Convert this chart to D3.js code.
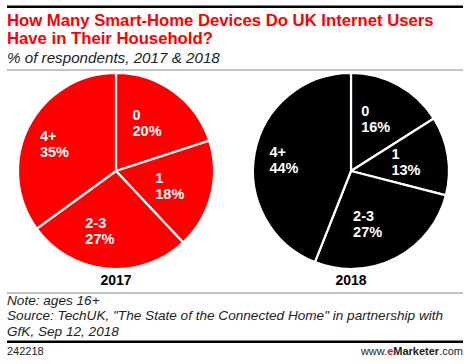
<!DOCTYPE html>
<html><head><meta charset="utf-8">
<script src="https://cdn.jsdelivr.net/npm/d3@7"></script>
<style>
body{margin:0;background:#fff;}
svg{display:block;font-family:"Liberation Sans",Arial,sans-serif;}
</style></head>
<body><svg id="c" width="470" height="364"></svg>
<script>
const categories = ["0", "1", "2-3", "4+"];
const years = ["2017", "2018"];
const values2017 = [20, 18, 27, 35];
const values2018 = [16, 13, 27, 44];
const seriesColors = ["#ff0000", "#000000"];

const svg = d3.select("#c");
// header
svg.append("rect").attr("x",7).attr("y",5.5).attr("width",456).attr("height",2.5).attr("fill","#000");
const title = svg.append("text").attr("fill","#ff0000").attr("font-weight","bold").attr("font-size",16.7);
title.append("tspan").attr("x",7).attr("y",26).text("How Many Smart-Home Devices Do UK Internet Users");
title.append("tspan").attr("x",7).attr("y",43.5).text("Have in Their Household?");
svg.append("text").attr("x",7).attr("y",62.5).attr("font-style","italic").attr("font-size",15.2).attr("fill","#222")
  .text("% of respondents, 2017 & 2018");
svg.append("rect").attr("x",7).attr("y",69.5).attr("width",456).attr("height",1).attr("fill","#888");

const R = 98;
const centers = [116, 351];
const cy = 171;
const pie = d3.pie().sort(null).value(d=>d);
const arc = d3.arc().innerRadius(0).outerRadius(R);
const labelArc = d3.arc().innerRadius(R*0.61).outerRadius(R*0.61);

[values2017, values2018].forEach((vals, i) => {
  const g = svg.append("g").attr("transform", `translate(${centers[i]},${cy})`);
  const arcs = pie(vals);
  g.selectAll("path").data(arcs).join("path")
    .attr("d", arc).attr("fill", seriesColors[i]).attr("stroke","#fff").attr("stroke-width",2.2);
  arcs.forEach((a, j) => {
    const [x, y] = labelArc.centroid(a);
    const t = g.append("text").attr("fill","#fff").attr("font-weight","bold").attr("font-size",14.5);
    const t1 = t.append("tspan").attr("y", y - 3).text(categories[j]);
    const t2 = t.append("tspan").attr("y", y + 13).text(vals[j] + "%");
    const w = t.node().getBBox().width;
    t1.attr("x", x - w/2); t2.attr("x", x - w/2);
  });
  svg.append("text").attr("x", centers[i]).attr("y", 285).attr("text-anchor","middle")
    .attr("font-weight","bold").attr("font-size",14).attr("fill","#000").text(years[i]);
});

// footer
svg.append("rect").attr("x",7).attr("y",292.5).attr("width",456).attr("height",1).attr("fill","#888");
const foot = svg.append("text").attr("font-style","italic").attr("font-size",13.6).attr("fill","#222");
foot.append("tspan").attr("x",7).attr("y",304.5).text("Note: ages 16+");
foot.append("tspan").attr("x",7).attr("y",320).text("Source: TechUK, \"The State of the Connected Home\" in partnership with");
foot.append("tspan").attr("x",7).attr("y",336).text("GfK, Sep 12, 2018");
svg.append("rect").attr("x",7).attr("y",340.5).attr("width",456).attr("height",2.5).attr("fill","#000");
svg.append("text").attr("x",7).attr("y",355).attr("font-size",11).attr("fill","#222").text("242218");
const brand = svg.append("text").attr("x",463).attr("y",355).attr("text-anchor","end").attr("font-size",11).attr("fill","#222");
brand.append("tspan").text("www.");
brand.append("tspan").attr("fill","#ff0000").attr("font-weight","bold").text("e");
brand.append("tspan").attr("font-weight","bold").text("Marketer");
brand.append("tspan").text(".com");
</script></body></html>
